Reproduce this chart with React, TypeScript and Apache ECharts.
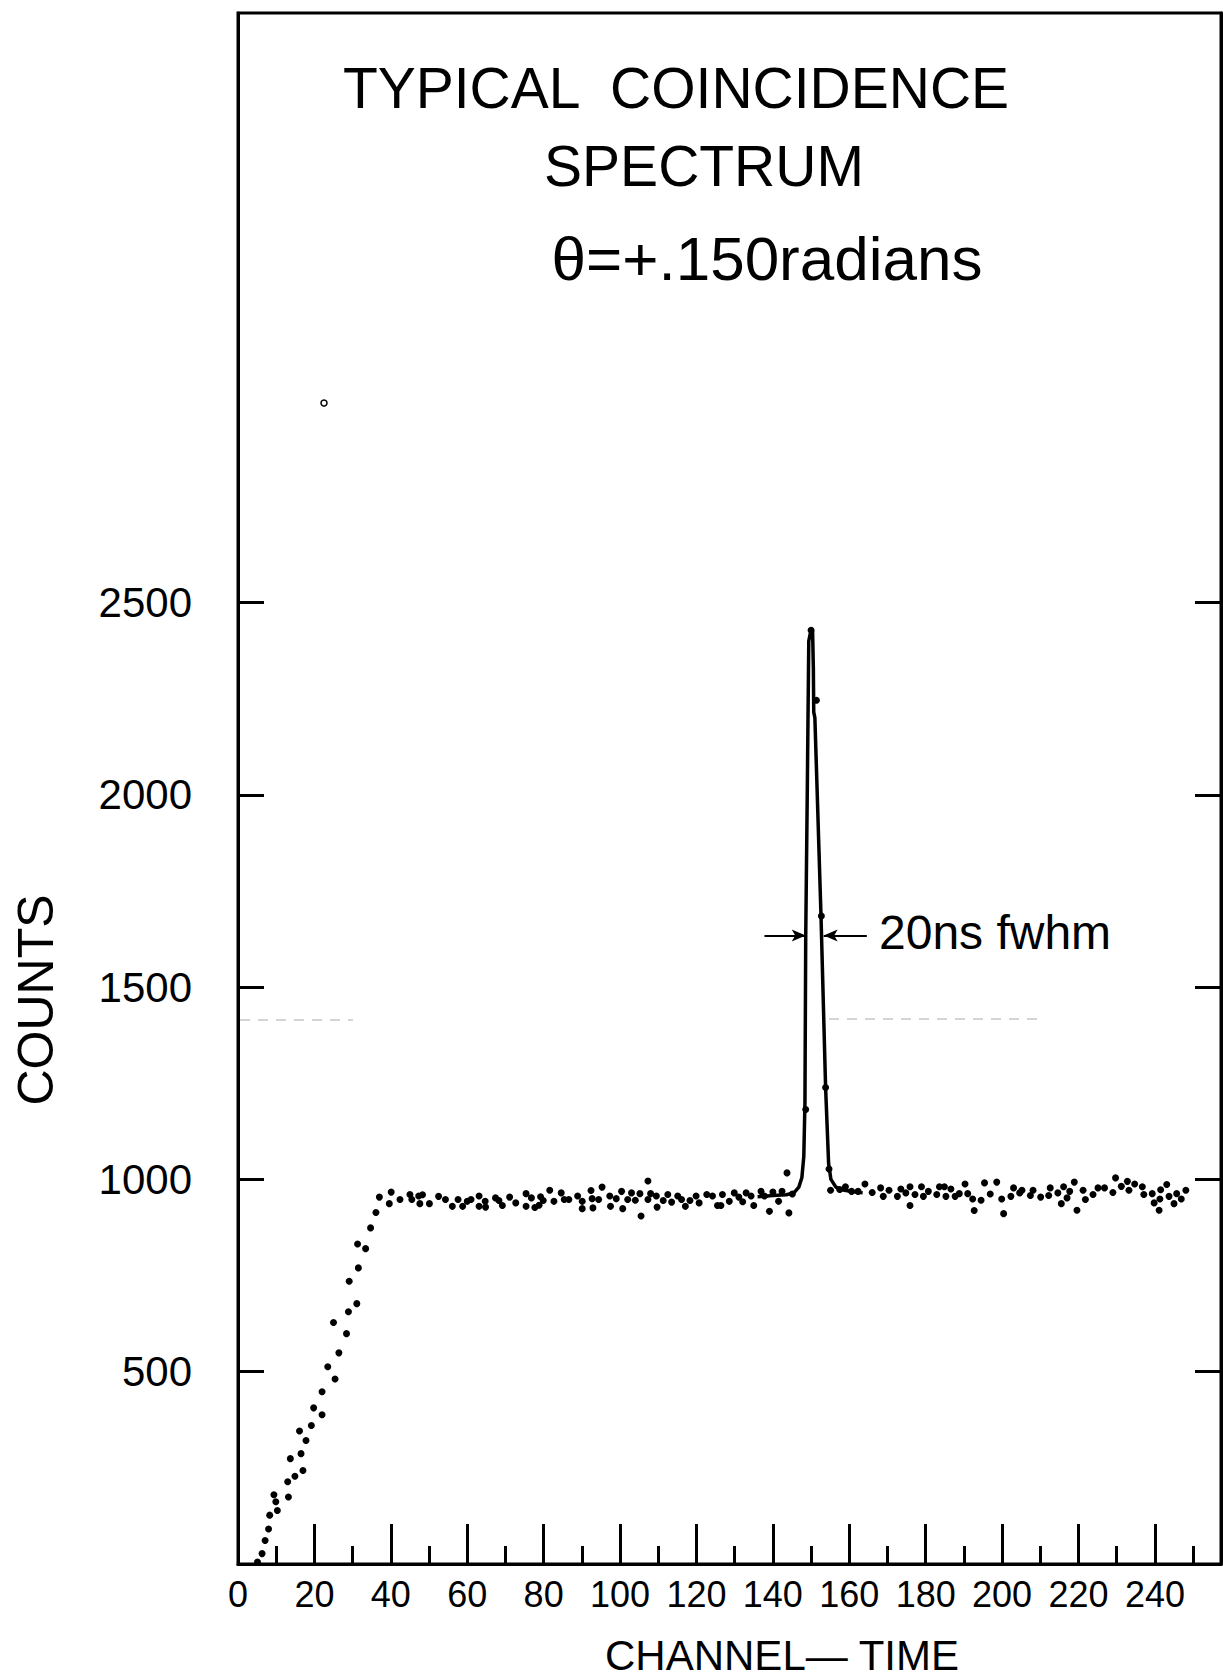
import React, { useEffect, useRef } from "react";
import * as echarts from "echarts";

// ---- data (channel, counts) ----
const riseDots: number[][] = [
  [5.1, 5], [6.3, 27], [7.1, 61], [8.0, 91], [8.3, 127], [9.4, 180], [9.9, 162], [10.3, 139],
  [13.0, 214], [13.2, 174], [13.7, 274], [14.9, 228], [16.1, 346], [16.5, 287], [17.0, 243],
  [17.8, 321], [19.2, 360], [19.8, 406], [22.0, 388], [22.0, 448], [23.5, 513], [25.0, 628],
  [25.4, 481], [26.4, 549], [28.4, 599], [28.9, 656], [29.1, 735], [31.1, 677], [31.3, 832],
  [31.5, 770], [33.4, 820], [34.7, 874], [36.1, 914], [37.0, 954], [39.6, 937], [40.1, 967],
];

const leftPlateauDots: number[][] = [
  [42.4, 948], [45.0, 961], [45.5, 948], [47.3, 957], [47.6, 937], [48.3, 960], [50.1, 937],
  [52.5, 956], [54.3, 948], [56.1, 930], [57.6, 948], [58.8, 930], [60.0, 943], [61.0, 948],
  [63.1, 957], [63.1, 930], [64.7, 943], [64.8, 928], [67.4, 952], [68.3, 945], [69.2, 932],
  [71.1, 954], [72.7, 939], [75.4, 963], [75.4, 930], [76.8, 952], [77.7, 927], [78.8, 933],
  [79.2, 955], [79.9, 945], [81.6, 972], [82.7, 943], [84.6, 965], [85.4, 948], [86.6, 948],
  [88.9, 957], [90.1, 924], [90.1, 943], [92.4, 971], [92.7, 950], [92.9, 926], [94.4, 948],
  [95.3, 980], [97.3, 957], [97.5, 930], [99.0, 950], [100.4, 969], [100.7, 924], [102.0, 948],
  [103.0, 965], [104.0, 946], [105.2, 963], [105.5, 905], [107.3, 996], [107.3, 948], [108.0, 963],
  [109.5, 957], [109.7, 928], [111.3, 945], [112.5, 961], [113.5, 941], [115.1, 957], [116.1, 948],
  [117.1, 930], [118.3, 945], [119.9, 957], [120.7, 939], [122.7, 961], [124.2, 957], [125.5, 932],
  [126.4, 932], [126.8, 961], [128.6, 943], [129.9, 965], [131.1, 954], [132.1, 942], [133.0, 965],
  [134.3, 957], [135.0, 932], [136.9, 969], [137.8, 957], [139.1, 917], [140.0, 967], [141.5, 943],
  [142.4, 969], [143.7, 1017], [144.2, 913], [145.1, 962],
];

const peakDots: number[][] = [
  [148.6, 1182], [150.0, 2428], [151.4, 2246], [152.7, 1685], [153.8, 1239], [154.7, 1027], [155.1, 972],
];

const rightPlateauDots: number[][] = [
  [157.5, 974], [159.0, 981], [160.6, 969], [162.3, 969], [164.1, 988], [166.0, 966], [168.2, 978],
  [168.9, 956], [170.4, 972], [172.6, 956], [173.5, 975], [174.8, 965], [175.9, 981], [175.9, 932],
  [177.2, 961], [178.9, 981], [179.4, 956], [180.7, 969], [182.9, 961], [183.6, 981], [184.9, 981],
  [185.3, 956], [186.6, 975], [187.7, 956], [188.8, 963], [190.3, 988], [191.0, 963], [192.3, 949],
  [192.7, 919], [194.5, 946], [195.4, 991], [196.9, 962], [198.6, 993], [199.9, 949], [200.4, 911],
  [202.3, 956], [203.0, 978], [204.6, 965], [205.2, 972], [207.4, 958], [208.1, 972], [210.1, 954],
  [212.2, 958], [212.6, 978], [214.6, 965], [215.5, 937], [216.1, 981], [217.0, 952], [217.7, 969],
  [218.9, 993], [219.6, 920], [221.2, 972], [221.8, 948], [223.8, 961], [225.1, 978], [226.8, 978],
  [229.0, 966], [229.7, 1004], [231.2, 982], [232.8, 995], [233.2, 972], [234.7, 988], [236.7, 981],
  [237.1, 961], [239.3, 963], [239.8, 939], [241.1, 920], [241.3, 949], [241.5, 973], [243.1, 987],
  [243.7, 956], [245.0, 937], [245.7, 963], [246.9, 949], [248.1, 972],
];

// hand-drawn curve through the coincidence peak
const peakCurve: number[][] = [
  [136, 955], [140, 958], [143.5, 960], [145.5, 965], [146.8, 980], [147.6, 1005], [148.1, 1060],
  [148.4, 1200], [148.6, 1630], [149.0, 2000], [149.4, 2400], [150.0, 2430], [150.4, 2425],
  [150.6, 2330], [150.7, 2215], [151.0, 2200], [152.6, 1685], [153.8, 1240], [154.6, 1040],
  [155.2, 1000], [156.5, 980], [158, 973], [161, 968], [163.5, 965],
];

const yTickValues = [500, 1000, 1500, 2000, 2500];
const fwhmLevel = 1634;
const fwhmArrowLeft = [137.8, 148.6];
const fwhmArrowRight = [164.6, 153.3];

const titleLines = ["TYPICAL  COINCIDENCE", "SPECTRUM", "θ=+.150radians"];
const xAxisTitle = "CHANNEL— TIME";
const yAxisTitle = "COUNTS";
const fwhmLabel = "20ns fwhm";

const FONT = "'Liberation Sans', Arial, sans-serif";

export default function App() {
  const ref = useRef<HTMLDivElement>(null);
  useEffect(() => {
    if (!ref.current) return;
    const chart = echarts.init(ref.current, null, { renderer: "svg" });
    const option: any = {
      animation: false,
      backgroundColor: "#fff",
      grid: {
        left: 238,
        right: 2,
        top: 13,
        bottom: 114,
        show: true,
        borderColor: "#000",
        borderWidth: 3,
        containLabel: false,
      },
      xAxis: {
        type: "value",
        min: 0,
        max: 257.3,
        interval: 20,
        axisLine: { show: true, lineStyle: { color: "#000", width: 3 } },
        axisTick: { show: true, inside: true, length: 40, lineStyle: { color: "#000", width: 3 } },
        minorTick: { show: true, splitNumber: 2, length: 18, lineStyle: { color: "#000", width: 3 } },
        axisLabel: {
          show: true,
          color: "#000",
          fontFamily: FONT,
          fontSize: 36,
          margin: 12,
          showMaxLabel: false,
          formatter: (v: number) => (v % 20 === 0 ? String(v) : ""),
        },
        splitLine: { show: false },
        minorSplitLine: { show: false },
      },
      yAxis: [
        {
          type: "value",
          min: 0,
          max: 4033,
          interval: 500,
          position: "left",
          axisLine: { show: true, lineStyle: { color: "#000", width: 3 } },
          axisTick: {
            show: true,
            inside: true,
            length: 26,
            lineStyle: { color: "#000", width: 3 },
            customValues: yTickValues,
          },
          axisLabel: {
            show: true,
            color: "#000",
            fontFamily: FONT,
            fontSize: 42,
            margin: 46,
            customValues: yTickValues,
            formatter: (v: number) => String(v),
          },
          splitLine: { show: false },
        },
        {
          type: "value",
          min: 0,
          max: 4033,
          interval: 500,
          position: "right",
          axisLine: { show: true, lineStyle: { color: "#000", width: 3 } },
          axisTick: {
            show: true,
            inside: true,
            length: 26,
            lineStyle: { color: "#000", width: 3 },
            customValues: yTickValues,
          },
          axisLabel: { show: false },
          splitLine: { show: false },
        },
      ],
      series: [
        {
          type: "line",
          data: peakCurve,
          showSymbol: false,
          symbol: "none",
          lineStyle: { color: "#000", width: 3.5 },
          z: 3,
          markLine: {
            silent: true,
            symbol: ["none", "arrow"],
            symbolSize: [9, 14],
            label: { show: false },
            lineStyle: { color: "#000", width: 2, type: "solid" },
            data: [
              [{ coord: [fwhmArrowLeft[0], fwhmLevel] }, { coord: [fwhmArrowLeft[1], fwhmLevel] }],
              [{ coord: [fwhmArrowRight[0], fwhmLevel] }, { coord: [fwhmArrowRight[1], fwhmLevel] }],
            ],
          },
        },
        {
          type: "scatter",
          data: [...riseDots, ...leftPlateauDots, ...peakDots, ...rightPlateauDots],
          symbol: "circle",
          symbolSize: 7,
          itemStyle: { color: "#000", opacity: 1 },
          z: 4,
        },
      ],
      graphic: [
        {
          type: "text",
          x: 676,
          y: 88,
          style: { text: titleLines[0], font: `57px ${FONT}`, fill: "#000", align: "center", verticalAlign: "middle" },
        },
        {
          type: "text",
          x: 704,
          y: 166,
          style: { text: titleLines[1], font: `57px ${FONT}`, fill: "#000", align: "center", verticalAlign: "middle" },
        },
        {
          type: "text",
          x: 767,
          y: 258,
          style: { text: titleLines[2], font: `62px ${FONT}`, fill: "#000", align: "center", verticalAlign: "middle" },
        },
        {
          type: "text",
          x: 36,
          y: 1000,
          rotation: Math.PI / 2,
          style: { text: yAxisTitle, font: `50px ${FONT}`, fill: "#000", align: "center", verticalAlign: "middle" },
        },
        {
          type: "text",
          x: 782,
          y: 1655,
          style: { text: xAxisTitle, font: `42px ${FONT}`, fill: "#000", align: "center", verticalAlign: "middle" },
        },
        {
          type: "text",
          x: 879,
          y: 932,
          style: { text: fwhmLabel, font: `48px ${FONT}`, fill: "#000", align: "left", verticalAlign: "middle" },
        },
        {
          type: "line",
          shape: { x1: 240, y1: 1020, x2: 353, y2: 1020 },
          style: { stroke: "#aaa", lineWidth: 1, lineDash: [10, 8] },
        },
        {
          type: "line",
          shape: { x1: 829, y1: 1019, x2: 1038, y2: 1019 },
          style: { stroke: "#aaa", lineWidth: 1, lineDash: [10, 8] },
        },
        {
          type: "circle",
          shape: { cx: 324, cy: 403, r: 3 },
          style: { stroke: "#000", fill: "none", lineWidth: 1.5 },
        },
      ],
    };
    chart.setOption(option);
    return () => chart.dispose();
  }, []);
  return (
    <div
      ref={ref}
      style={{ position: "absolute", left: 0, top: 0, width: 1223, height: 1678, background: "#fff" }}
    />
  );
}
